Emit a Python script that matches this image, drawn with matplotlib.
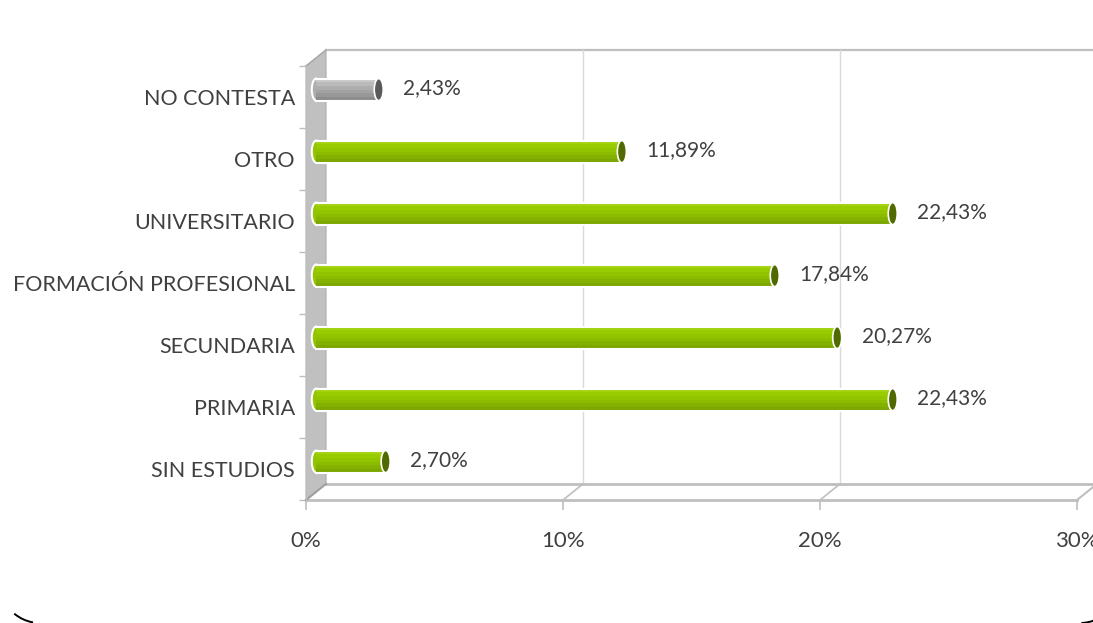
import matplotlib.pyplot as plt
from matplotlib.patches import Polygon, Ellipse, Arc

plt.rcParams['font.family'] = ['Lato', 'DejaVu Sans']

categories = ['SIN ESTUDIOS', 'PRIMARIA', 'SECUNDARIA', 'FORMACIÓN PROFESIONAL',
              'UNIVERSITARIO', 'OTRO', 'NO CONTESTA']
values = [2.70, 22.43, 20.27, 17.84, 22.43, 11.89, 2.43]
xticks = [0, 10, 20, 30]

TEXT = '#404040'
EDGE = '#bfbfbf'
GREEN_BANDS = ['#a2d30f', '#99cc00', '#92c400', '#8cbc00', '#84b100', '#7ca600']
GREY_BANDS = ['#c9c9c9', '#bababa', '#adadad', '#a3a3a3', '#989898', '#8c8c8c']
GREEN_CAP = '#4f6b00'
GREY_CAP = '#5a5a5a'

# depth of the 3d box in data units
DX, DY = 0.78, 0.26
X0 = 0.4       # bars sit halfway into the box
YOFF = 0.12
BAR_H = 0.355
CAP_W = 0.35

fig = plt.figure(figsize=(10.93, 6.23), dpi=100)
ax = fig.add_axes([306 / 1093, 123 / 623, 771 / 1093, 434 / 623])
ax.set_xlim(0, 30)
ax.set_ylim(-0.5, 6.5)
ax.set_facecolor('none')

# back wall top edge and gridlines
ax.plot([DX, 30 + DX], [6.5 + DY, 6.5 + DY], color=EDGE, lw=1.6, clip_on=False)
for t in xticks[1:-1]:
    ax.plot([t + DX, t + DX], [-0.5 + DY, 6.5 + DY], color='#d9d9d9', lw=1, clip_on=False)
    ax.plot([t, t + DX], [-0.5, -0.5 + DY], color=EDGE, lw=1.2, clip_on=False)

# left side wall
ax.add_patch(Polygon([(0, -0.5), (DX, -0.5 + DY), (DX, 6.5 + DY), (0, 6.5)],
                     closed=True, facecolor='#c0c0c0', edgecolor='#b0b0b0', lw=0.8,
                     clip_on=False, zorder=1))
ax.plot([0, DX], [6.5, 6.5 + DY], color='#a8a8a8', lw=1, clip_on=False)

# floor
ax.plot([DX, 30 + DX], [-0.5 + DY, -0.5 + DY], color=EDGE, lw=2, clip_on=False, zorder=2)
ax.plot([0, 30], [-0.5, -0.5], color=EDGE, lw=2, clip_on=False, zorder=2)
ax.plot([30, 30 + DX], [-0.5, -0.5 + DY], color=EDGE, lw=1.5, clip_on=False, zorder=2)
ax.plot([0, DX], [-0.5, -0.5 + DY], color='#a0a0a0', lw=1.5, clip_on=False, zorder=2)

# cylinder bars
for i, v in enumerate(values):
    grey = categories[i] == 'NO CONTESTA'
    bands = GREY_BANDS if grey else GREEN_BANDS
    cap = GREY_CAP if grey else GREEN_CAP
    yc = i + YOFF
    ax.add_patch(Ellipse((X0, yc), CAP_W, BAR_H, facecolor=bands[2],
                         edgecolor='white', lw=1.5, zorder=3))
    n = len(bands)
    hb = BAR_H / n
    for k, c in enumerate(bands):
        ax.barh(yc + BAR_H / 2 - hb * (k + 0.5), v, left=X0, height=hb,
                color=c, edgecolor='none', zorder=4)
    ax.plot([X0, X0 + v], [yc + BAR_H / 2] * 2, color='white', lw=1.5, zorder=5)
    ax.plot([X0, X0 + v], [yc - BAR_H / 2] * 2, color='white', lw=1.5, zorder=5)
    ax.add_patch(Ellipse((X0 + v, yc), CAP_W, BAR_H, facecolor=cap,
                         edgecolor='white', lw=1.2, zorder=6))
    ax.text(X0 + v + 0.95, yc + 0.02, f'{v:.2f}%'.replace('.', ','),
            ha='left', va='center', fontsize=15, color=TEXT, zorder=7)

# axes and ticks
for s in ['top', 'right', 'bottom']:
    ax.spines[s].set_visible(False)
ax.spines['left'].set_color(EDGE)
ax.set_yticks(range(len(categories)))
ax.set_yticklabels(categories)
ax.set_yticks([k - 0.5 for k in range(len(categories) + 1)], minor=True)
ax.tick_params(axis='y', which='major', length=0, pad=8, labelsize=15.5, labelcolor=TEXT)
ax.tick_params(axis='y', which='minor', length=5, width=1, color=EDGE)
ax.set_xticks(xticks)
ax.set_xticklabels([f'{t}%' for t in xticks])
ax.tick_params(axis='x', length=7, width=1.2, color=EDGE, pad=15,
               labelsize=16, labelcolor=TEXT)
for lbl in ax.get_xticklabels():
    lbl.set_clip_on(False)

# rounded chart border, only the bottom corners fall inside the image
over = fig.add_axes([0, 0, 1, 1])
over.set_xlim(0, 1093)
over.set_ylim(623, 0)
over.axis('off')
over.add_patch(Arc((40, 583), 80, 80, theta1=100, theta2=130, color='black', lw=1.4))
over.add_patch(Arc((1080, 583), 80, 80, theta1=70, theta2=88, color='black', lw=1.4))

fig.savefig('out.png', dpi=100)
